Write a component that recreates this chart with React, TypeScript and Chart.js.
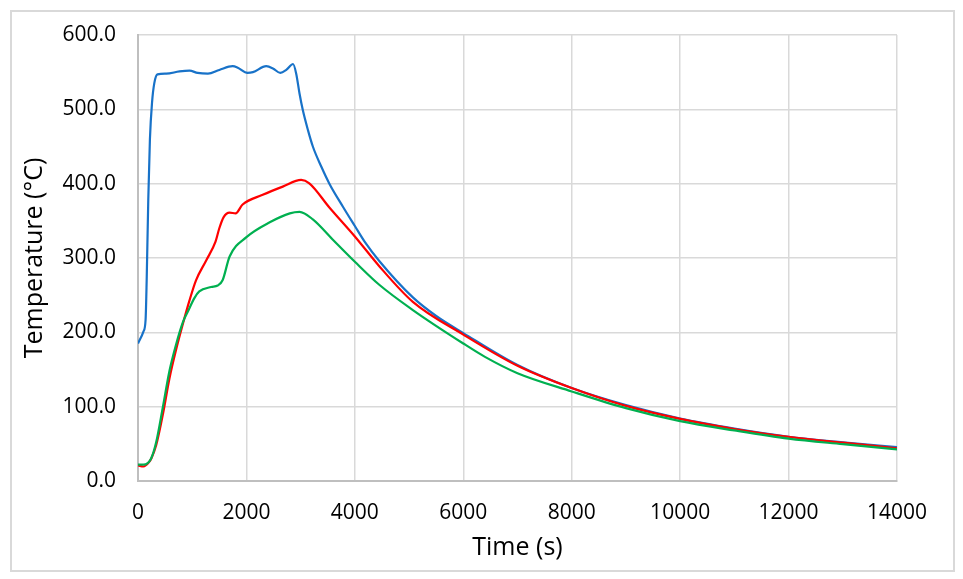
import { useEffect, useRef } from "react";
import { Chart, registerables } from "chart.js";

Chart.register(...registerables);

// Readings: time (s) and temperature (°C)
const blueTime = [0, 100, 140, 160, 190, 220, 260, 300, 360, 520, 765, 950, 1100, 1290, 1500, 1745, 1840, 2020, 2120, 2365, 2490, 2625, 2735, 2860, 2918, 2980, 3040, 3135, 3225, 3380, 3530, 3780, 4000, 4180, 4450, 5070, 5500, 6000, 7000, 8000, 9000, 10000, 11000, 12000, 13000, 14000];
const blueTemp = [185, 201, 217, 270, 380, 460, 510, 535, 547, 548, 551, 552, 549, 548, 553, 558, 556, 549, 550, 558, 555, 549, 553, 561, 548, 521, 499, 472, 450, 423, 400, 369, 343, 322, 296, 247, 222, 199, 156, 125, 102, 84, 70.5, 59.5, 52, 45.5];

const redTime = [0, 100, 200, 250, 335, 460, 580, 700, 830, 950, 1070, 1260, 1430, 1500, 1580, 1690, 1800, 1930, 2300, 2670, 3010, 3160, 3530, 4000, 4450, 5070, 6000, 7000, 8000, 9000, 10000, 11000, 12000, 13000, 14000];
const redTemp = [21, 19.5, 25, 31, 48, 90, 138, 176, 212, 243, 270, 297, 322, 340, 355, 361, 360, 372, 385, 396, 405, 400.5, 368, 329, 289, 241, 197, 155, 125, 101, 83.5, 70, 59.5, 51.5, 44];

const greenTime = [0, 100, 240, 335, 460, 580, 700, 830, 920, 1040, 1130, 1350, 1470, 1560, 1690, 2000, 2430, 2800, 2980, 3225, 3590, 4000, 4450, 5070, 6000, 6400, 7000, 8000, 9000, 10000, 11000, 12000, 13000, 14000];
const greenTemp = [22, 22, 30, 52, 100, 148, 183, 214, 228, 246, 255, 261, 263, 270, 302, 328, 348, 360, 362, 352, 325, 295, 264, 230, 185, 167, 145, 120.5, 98, 80.5, 68, 57, 49.5, 42.5];

const FONT = "'Open Sans', sans-serif";

const toPoints = (xs: number[], ys: number[]) => xs.map((x, i) => ({ x, y: ys[i] }));

export default function App() {
  const canvasRef = useRef<HTMLCanvasElement>(null);

  useEffect(() => {
    if (!canvasRef.current) return;

    const line = (data: { x: number; y: number }[], color: string, order: number) => ({
      data,
      borderColor: color,
      backgroundColor: color,
      borderWidth: 2.2,
      pointRadius: 0,
      cubicInterpolationMode: "monotone" as const,
      fill: false,
      order,
    });

    const chart = new Chart(canvasRef.current, {
      type: "line",
      data: {
        datasets: [
          line(toPoints(blueTime, blueTemp), "#1872C8", 3),
          line(toPoints(redTime, redTemp), "#FF0000", 2),
          line(toPoints(greenTime, greenTemp), "#00B050", 1),
        ],
      },
      options: {
        animation: false,
        responsive: false,
        devicePixelRatio: 1,
        layout: { padding: { left: 0, right: 66, top: 35, bottom: 0 } },
        plugins: { legend: { display: false }, tooltip: { enabled: false } },
        scales: {
          x: {
            type: "linear",
            min: 0,
            max: 14000,
            afterFit: (s) => { s.height = 98; },
            ticks: { stepSize: 2000, padding: 19, color: "#000", font: { family: FONT, size: 21 }, callback: (v) => String(v) },
            grid: { color: "#d9d9d9", lineWidth: 1.5, drawTicks: false },
            border: { color: "#bfbfbf", width: 2 },
            title: { display: true, text: "Time (s)", color: "#000", font: { family: FONT, size: 25 }, padding: { top: 0, bottom: 16 } },
          },
          y: {
            min: 0,
            max: 600,
            afterFit: (s) => { s.width = 138; },
            ticks: { stepSize: 100, padding: 22, color: "#000", font: { family: FONT, size: 21 }, callback: (v) => Number(v).toFixed(1) },
            grid: { color: "#d9d9d9", lineWidth: 1.5, drawTicks: false },
            border: { color: "#bfbfbf", width: 2 },
            title: { display: true, text: "Temperature (°C)", color: "#000", font: { family: FONT, size: 25 }, padding: { top: 20, bottom: 0 } },
          },
        },
      },
    });

    return () => chart.destroy();
  }, []);

  return (
    <div style={{ position: "absolute", left: 0, top: 0, width: 963, height: 579, background: "#fff" }}>
      <div style={{ position: "absolute", left: 10, top: 10, width: 941, height: 558, border: "2px solid #d9d9d9" }} />
      <canvas ref={canvasRef} width={963} height={579} style={{ position: "absolute", left: 0, top: 0 }} />
    </div>
  );
}
